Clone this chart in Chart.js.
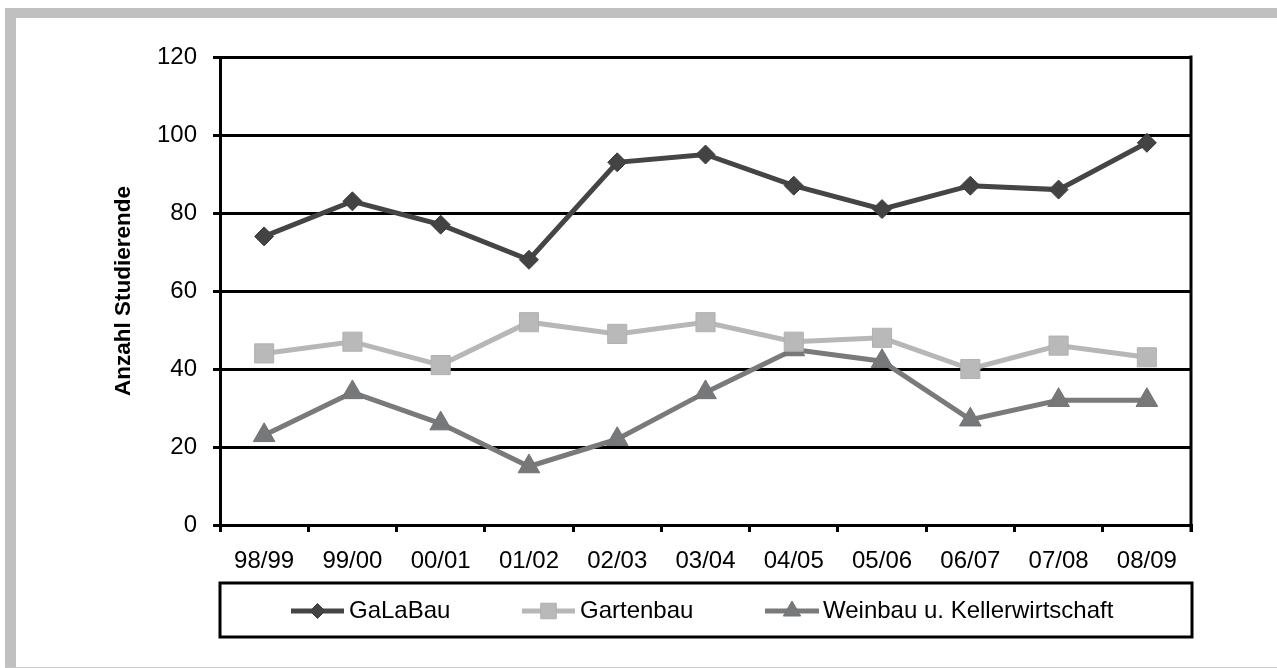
<!DOCTYPE html>
<html>
<head>
<meta charset="utf-8">
<script src="https://cdn.jsdelivr.net/npm/chart.js@4.4.1/dist/chart.umd.min.js"></script>
<style>
  html, body { margin: 0; padding: 0; background: #fff; }
  #wrap { position: relative; width: 1277px; height: 668px; overflow: hidden; }
  #frame {
    position: absolute; left: 5px; top: 8px; width: 1272px; height: 660px;
    box-sizing: border-box;
    border-top: 10px solid #c0c0c0;
    border-left: 11px solid #c0c0c0;
    border-bottom: 1px solid #c8c8c8;
  }
  canvas { position: absolute; left: 0; top: 0; }
</style>
</head>
<body>
<div id="wrap">
  <div id="frame"></div>
  <canvas id="c" width="1277" height="668"></canvas>
</div>
<script>
// Studienjahre (Wintersemester)
const semester = ['98/99', '99/00', '00/01', '01/02', '02/03', '03/04', '04/05', '05/06', '06/07', '07/08', '08/09'];

// Anzahl Studierende je Studiengang
const galabau   = [74, 83, 77, 68, 93, 95, 87, 81, 87, 86, 98];
const gartenbau = [44, 47, 41, 52, 49, 52, 47, 48, 40, 46, 43];
const weinbau   = [23, 34, 26, 15, 22, 34, 45, 42, 27, 32, 32];

const yTicks = [0, 20, 40, 60, 80, 100, 120];

const seriesNames = ['GaLaBau', 'Gartenbau', 'Weinbau u. Kellerwirtschaft'];

const FONT = "'Liberation Sans', Arial, sans-serif";

// Legend drawn inside a framed box under the x axis, each entry a line sample with its marker
const boxLegend = {
  id: 'boxLegend',
  afterDraw(chart) {
    const ctx = chart.ctx;
    const area = chart.chartArea;
    ctx.save();
    // right edge of the plot frame
    ctx.strokeStyle = '#000';
    ctx.lineWidth = 3;
    ctx.beginPath();
    ctx.moveTo(area.right, area.top - 1.5);
    ctx.lineTo(area.right, area.bottom + 7);
    ctx.stroke();

    const left = area.left, right = area.right + 1;
    const top = 583, bottom = 637;
    ctx.lineWidth = 3;
    ctx.strokeRect(left, top, right - left, bottom - top);

    const cy = 611;
    const entries = [
      { x1: 291, x2: 344, tx: 349, r: 7.5 },
      { x1: 522, x2: 575, tx: 580, r: 11 },
      { x1: 765, x2: 819, tx: 823, r: 10 }
    ];
    chart.data.datasets.forEach((ds, i) => {
      const e = entries[i];
      ctx.strokeStyle = ds.borderColor;
      ctx.lineWidth = 5;
      ctx.beginPath();
      ctx.moveTo(e.x1, cy);
      ctx.lineTo(e.x2, cy);
      ctx.stroke();
      ctx.fillStyle = ds.pointBackgroundColor;
      ctx.strokeStyle = ds.pointBorderColor;
      ctx.lineWidth = 1;
      Chart.helpers.drawPoint(ctx, { pointStyle: ds.pointStyle, radius: e.r, rotation: 0, borderWidth: 1 }, (e.x1 + e.x2) / 2, cy);
      ctx.fillStyle = '#000';
      ctx.font = '24px ' + FONT;
      ctx.textBaseline = 'middle';
      ctx.textAlign = 'left';
      ctx.fillText(ds.label, e.tx, cy);
    });
    ctx.restore();
  }
};

new Chart(document.getElementById('c'), {
  type: 'line',
  data: {
    labels: semester,
    datasets: [
      {
        label: seriesNames[0],
        data: galabau,
        borderColor: '#454545',
        borderWidth: 5,
        pointStyle: 'rectRot',
        pointRadius: 9.5,
        pointHoverRadius: 9.5,
        pointBackgroundColor: '#434343',
        pointBorderColor: '#3e3e3e',
        pointBorderWidth: 1,
        tension: 0
      },
      {
        label: seriesNames[1],
        data: gartenbau,
        borderColor: '#b6b7b8',
        borderWidth: 5,
        pointStyle: 'rect',
        pointRadius: 13.5,
        pointHoverRadius: 13.5,
        pointBackgroundColor: '#b9b9ba',
        pointBorderColor: '#afb1b2',
        pointBorderWidth: 1,
        tension: 0
      },
      {
        label: seriesNames[2],
        data: weinbau,
        borderColor: '#797a7c',
        borderWidth: 5,
        pointStyle: 'triangle',
        pointRadius: 12.5,
        pointHoverRadius: 12.5,
        pointBackgroundColor: '#77787a',
        pointBorderColor: '#727375',
        pointBorderWidth: 1,
        tension: 0
      }
    ]
  },
  options: {
    responsive: false,
    devicePixelRatio: 1,
    animation: false,
    events: [],
    layout: { padding: { top: 57, right: 86, bottom: 0, left: 0 } },
    plugins: {
      legend: { display: false },
      tooltip: { enabled: false }
    },
    scales: {
      x: {
        type: 'category',
        offset: true,
        grid: {
          offset: true,
          drawOnChartArea: false,
          drawTicks: true,
          tickLength: 7,
          color: '#000',
          lineWidth: 3
        },
        border: { display: true, color: '#000', width: 3 },
        ticks: {
          color: '#000',
          font: { family: FONT, size: 24 },
          padding: 15,
          maxRotation: 0,
          autoSkip: false
        },
        afterFit(scale) { scale.height = 143; }
      },
      y: {
        min: 0,
        max: 120,
        afterBuildTicks(scale) { scale.ticks = yTicks.map(v => ({ value: v })); },
        grid: {
          color: '#000',
          lineWidth: 3,
          drawTicks: true,
          tickLength: 7
        },
        border: { display: true, color: '#000', width: 3 },
        ticks: {
          color: '#000',
          font: { family: FONT, size: 24 },
          padding: 16
        },
        title: {
          display: true,
          text: 'Anzahl Studierende',
          color: '#000',
          font: { family: FONT, size: 22.5, weight: 'bold' },
          padding: { top: 110, bottom: 0 }
        },
        afterFit(scale) { scale.width = 220; }
      }
    }
  },
  plugins: [boxLegend]
});
</script>
</body>
</html>
